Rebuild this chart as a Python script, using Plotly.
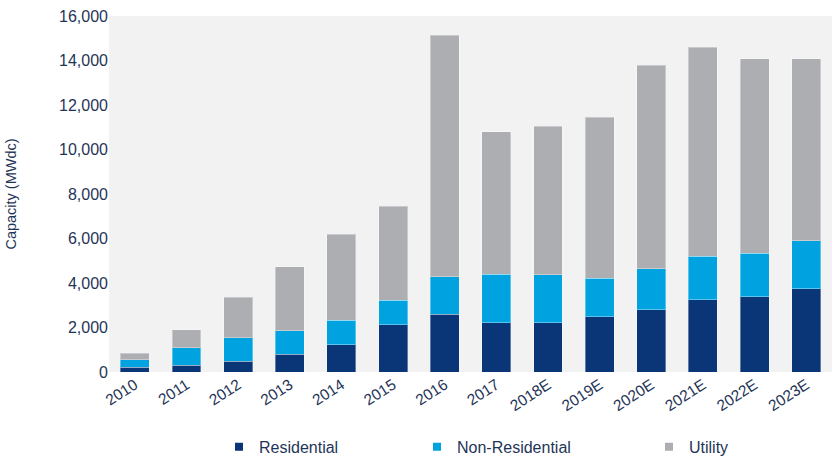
import plotly.graph_objects as go

years = ["2010", "2011", "2012", "2013", "2014", "2015", "2016", "2017",
         "2018E", "2019E", "2020E", "2021E", "2022E", "2023E"]
residential = [220, 300, 490, 800, 1220, 2120, 2600, 2210, 2210, 2480, 2800, 3250, 3380, 3740]
non_residential = [340, 790, 1050, 1050, 1100, 1100, 1670, 2190, 2150, 1740, 1830, 1960, 1960, 2150]
utility = [290, 820, 1810, 2880, 3880, 4240, 10870, 6390, 6690, 7230, 9160, 9380, 8750, 8200]
y_ticks = [0, 2000, 4000, 6000, 8000, 10000, 12000, 14000, 16000]

series_names = ["Residential", "Non-Residential", "Utility"]
series_values = [residential, non_residential, utility]
colors = ["#0a3577", "#00a3e0", "#adaeb2"]
legend_ids = ["legend", "legend2", "legend3"]

TEXT = "#1f3557"
FONT = "Liberation Sans, Arial, sans-serif"

fig = go.Figure()
for name, vals, col in zip(series_names, series_values, colors):
    fig.add_trace(go.Bar(
        x=years, y=vals, name=name, showlegend=False,
        marker=dict(color=col, line=dict(color="rgba(255,255,255,0.35)", width=1)),
    ))
for name, col, lg in zip(series_names, colors, legend_ids):
    fig.add_trace(go.Scatter(
        x=[None], y=[None], mode="markers", name=name, legend=lg,
        marker=dict(symbol="square", size=8, color=col),
    ))

W, H = 835, 461
ml, mr, mt, mb = 109, 3, 16, 89
pw = W - ml - mr

def px_x(p):
    return (p - ml) / pw

leg_common = dict(orientation="h", yanchor="middle", y=-0.21, xanchor="left",
                  font=dict(family=FONT, size=16, color=TEXT),
                  bgcolor="rgba(0,0,0,0)", itemwidth=30)

fig.update_layout(
    width=W, height=H,
    margin=dict(l=ml, r=mr, t=mt, b=mb, autoexpand=False),
    barmode="stack", bargap=0.44,
    plot_bgcolor="#f2f2f2", paper_bgcolor="#ffffff",
    font=dict(family=FONT, color=TEXT),
    xaxis=dict(tickangle=-33, tickfont=dict(size=15.5, color=TEXT), automargin=False,
               showgrid=False, showline=False, ticks=""),
    yaxis=dict(range=[0, 16000], tickvals=y_ticks, tickformat=",", automargin=False,
               tickfont=dict(size=16, color=TEXT), showgrid=False, zeroline=False,
               showline=False, ticks="",
               title=dict(text="Capacity (MWdc)", font=dict(size=14.5, color=TEXT), standoff=38)),
    legend=dict(x=px_x(219), **leg_common),
    legend2=dict(x=px_x(417), **leg_common),
    legend3=dict(x=px_x(649), **leg_common),
)

fig.write_html("out.html", config={"displayModeBar": False},
               post_script="document.body.style.margin='0';document.body.style.overflow='hidden';")
